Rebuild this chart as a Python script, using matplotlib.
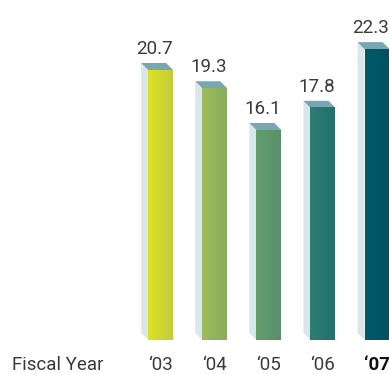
import numpy as np
import matplotlib.pyplot as plt
from matplotlib.patches import Polygon
from matplotlib.colors import LinearSegmentedColormap

years = ['\u201803', '\u201804', '\u201805', '\u201806', '\u201807']
values = [20.7, 19.3, 16.1, 17.8, 22.3]
# left / right shade of each bar's front face
face_left = ['#dde221', '#9dbb59', '#659e6c', '#2d7f72', '#005a68']
face_right = ['#c3cd3e', '#88ad5f', '#57906a', '#22706b', '#005060']

side_col = '#d9e6ec'
top_col = '#79a6b3'
text_col = '#3a3a3a'
fnt = dict(family='Roboto', fontweight='normal', fontsize=13.5, color=text_col)

fig = plt.figure(figsize=(3.89, 3.74), dpi=100)
ax = fig.add_axes([0, 0, 1, 1])
ax.set_xlim(-2.969, 4.22)
ax.set_ylim(-2.607, 26.07)
ax.axis('off')

w = 0.462      # front face width
dx = 0.13      # depth offset in x
dy = 0.54      # depth offset in y

for i, v in enumerate(values):
    L, R = i - w / 2, i + w / 2
    # side face
    ax.add_patch(Polygon([(L - dx, v + dy), (L, v), (L, 0), (L - dx, dy)],
                         closed=True, fc=side_col, ec='none', zorder=2))
    # top face
    ax.add_patch(Polygon([(L - dx, v + dy), (R - dx, v + dy), (R, v), (L, v)],
                         closed=True, fc=top_col, ec='none', zorder=2))
    # front face with horizontal gradient
    cmap = LinearSegmentedColormap.from_list('f%d' % i, [face_left[i], face_right[i]])
    grad = np.linspace(0, 1, 64).reshape(1, -1)
    ax.imshow(grad, cmap=cmap, extent=(L, R, 0, v), aspect='auto', zorder=3)
    ax.text(i - dx / 2 - 0.05, v + dy + 0.4, '%.1f' % v, ha='center', va='bottom', **fnt)
    if i == 4:
        ax.text(i, -2.3, years[i], ha='center', va='baseline', family='Roboto',
                fontweight='bold', fontsize=13.5, color='#111111')
    else:
        ax.text(i, -2.3, years[i], ha='center', va='baseline', **fnt)

ax.text(-2.75, -2.3, 'Fiscal Year', ha='left', va='baseline', **fnt)
# unit caption, mostly above the top edge
ax.text(-2.73, 26.3, '(Billions of Yen)', ha='left', va='baseline', **fnt)

fig.savefig('out.png', dpi=100)
